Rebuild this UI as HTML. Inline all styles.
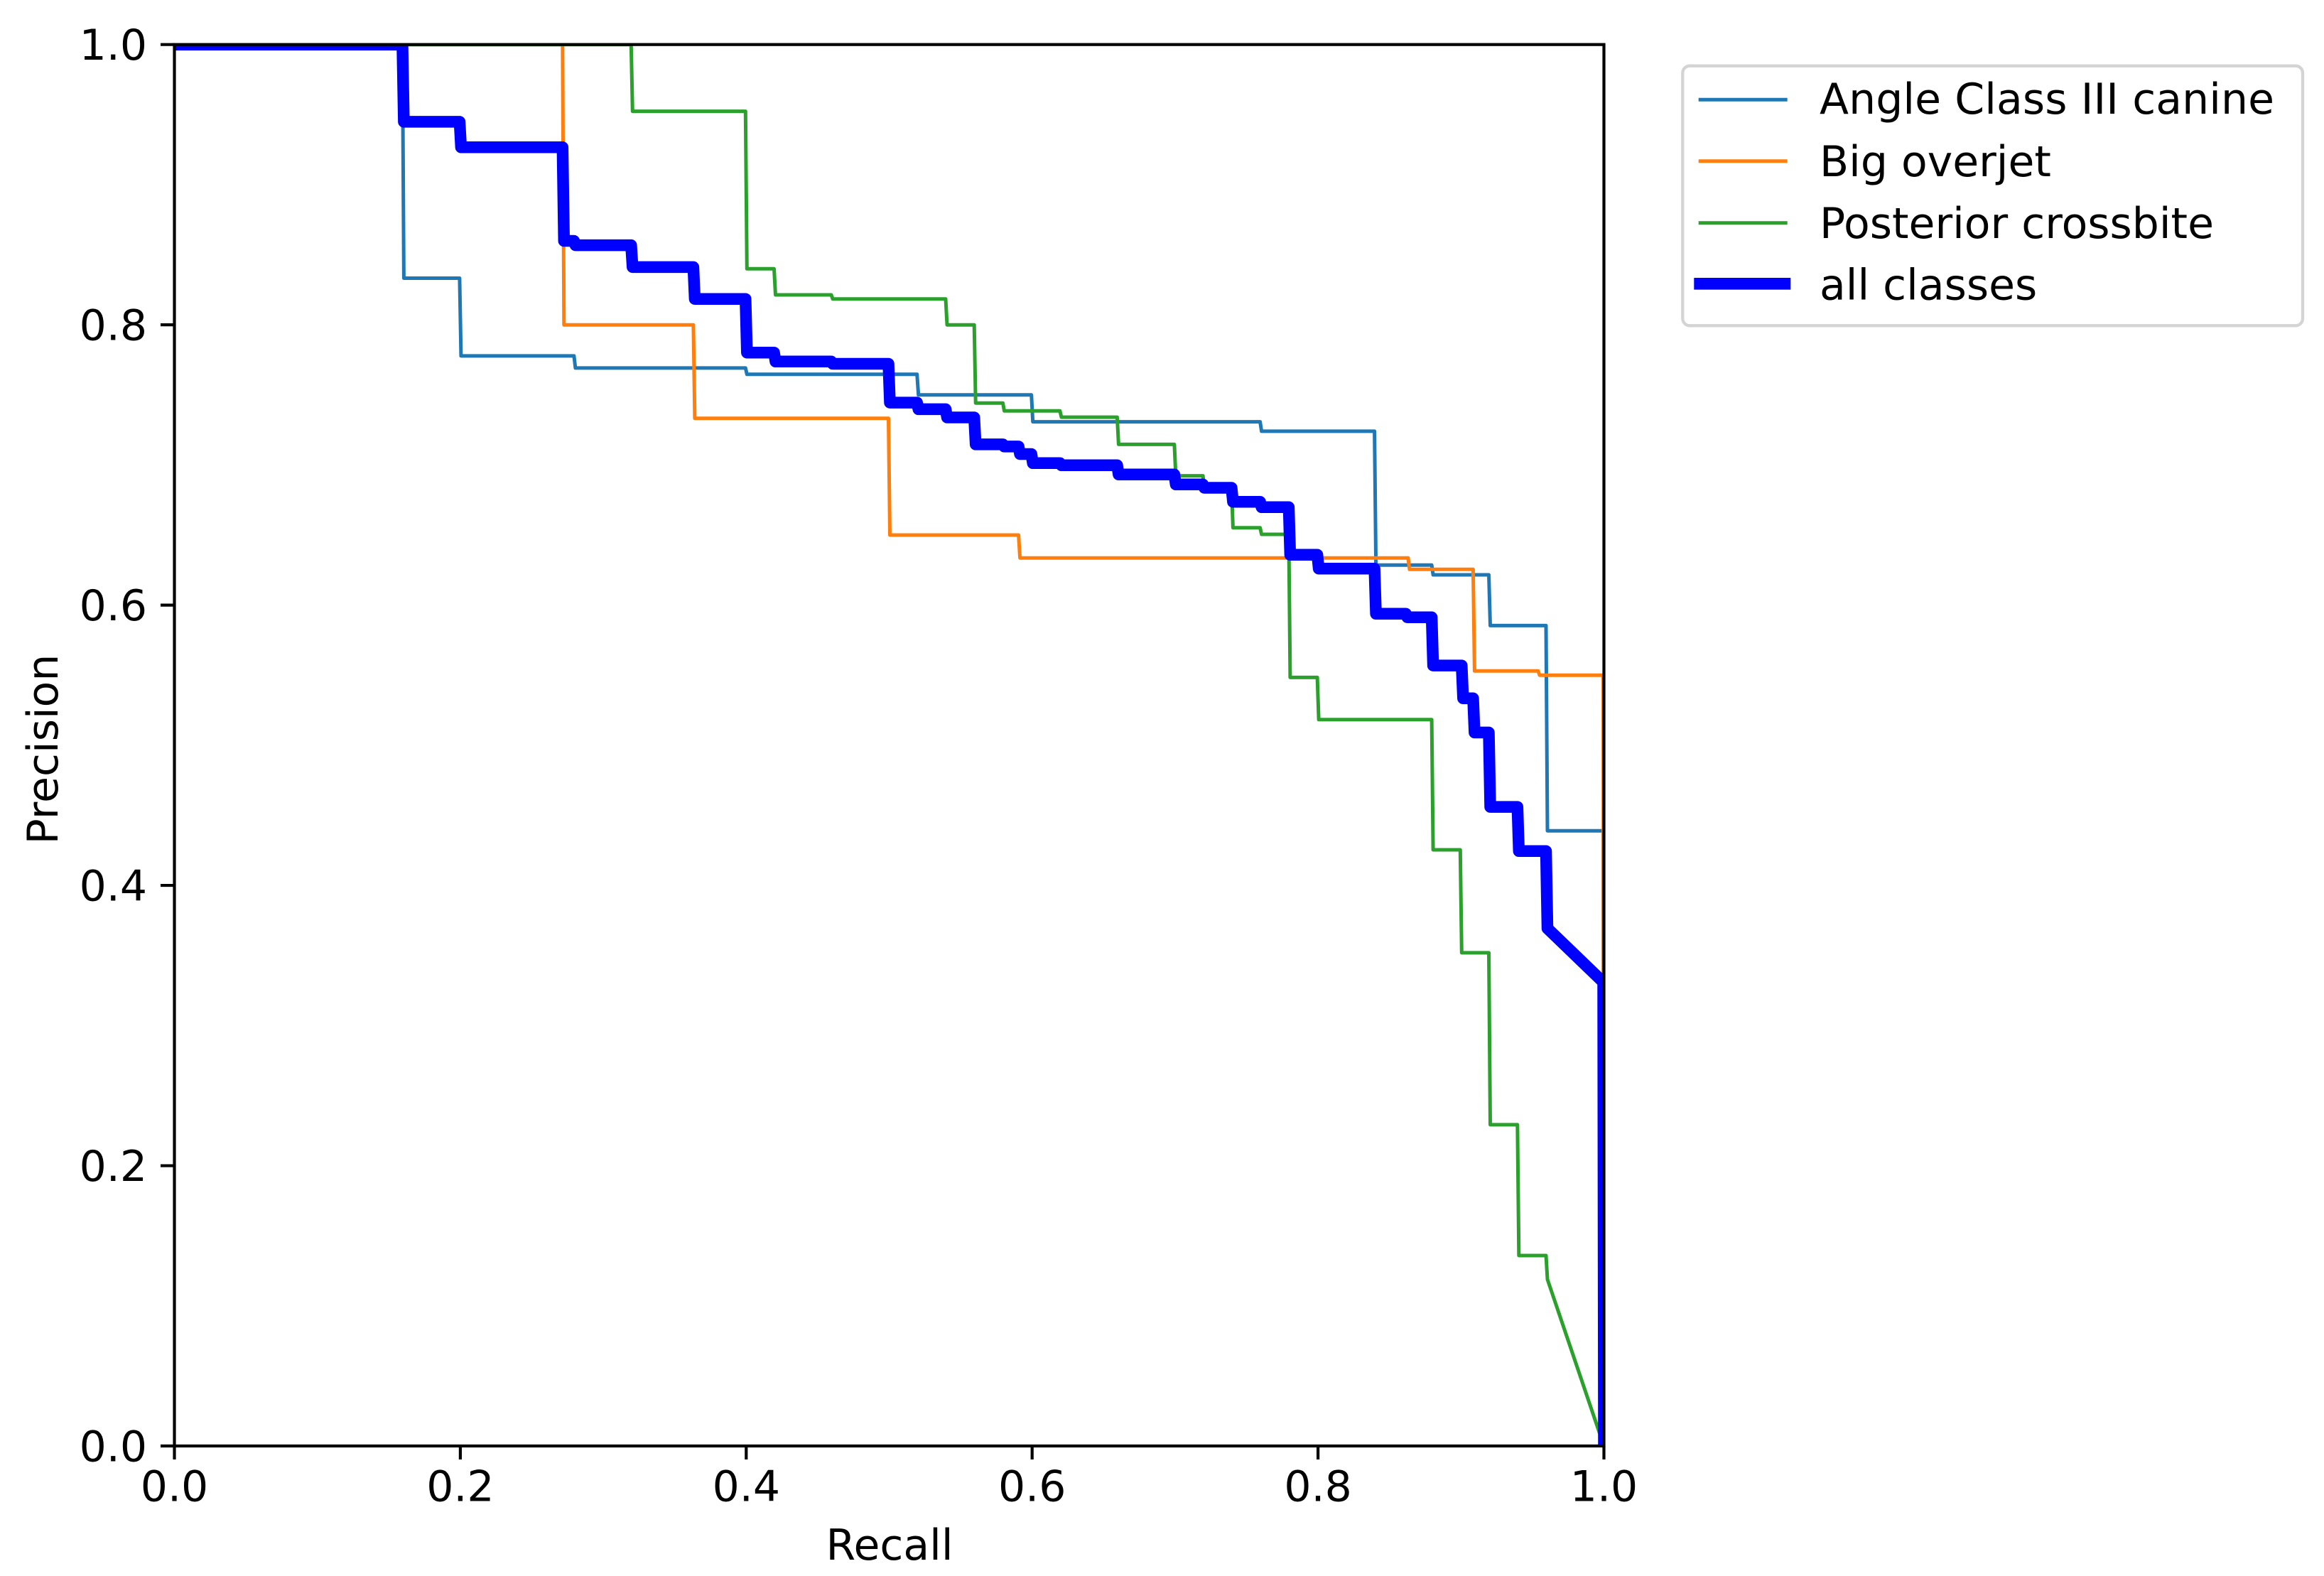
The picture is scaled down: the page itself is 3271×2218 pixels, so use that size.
<!DOCTYPE html>
<html>
<head>
<meta charset="utf-8">
<title>Precision-Recall Curve</title>
<style>
html,body{margin:0;padding:0;background:#fff;}
svg{display:block;}
text{font-family:"DejaVu Sans","Liberation Sans",sans-serif;font-size:60px;fill:#000;}
</style>
</head>
<body>
<svg id="chart" xmlns="http://www.w3.org/2000/svg" width="3271" height="2218" viewBox="0 0 3271 2218">
  <defs>
    <clipPath id="plot-clip"><rect x="245.5" y="62.7" width="2012" height="1972.3"/></clipPath>
  </defs>
  <rect x="0" y="0" width="3271" height="2218" fill="#fff"/>
  <g id="series" clip-path="url(#plot-clip)"></g>
  <g id="ticks"></g>
  <rect x="245.5" y="62.7" width="2012" height="1972.3" fill="none" stroke="#000" stroke-width="4.2"/>
  <text x="1252" y="2195" text-anchor="middle">Recall</text>
  <text transform="translate(81,1054.5) rotate(-90)" text-anchor="middle">Precision</text>
  <g>
    <rect x="2368.3" y="92.7" width="872.7" height="365.6" rx="10" ry="10" fill="#fff" stroke="#d4d4d4" stroke-width="4.3"/>
    <line x1="2390.7" y1="140.3" x2="2515.7" y2="140.3" stroke="#1f77b4" stroke-width="5"/>
    <text x="2561" y="160" textLength="640">Angle Class III canine</text>
    <line x1="2390.7" y1="226.7" x2="2515.7" y2="226.7" stroke="#ff7f0e" stroke-width="5"/>
    <text x="2561" y="248">Big overjet</text>
    <line x1="2390.7" y1="313.7" x2="2515.7" y2="313.7" stroke="#2ca02c" stroke-width="5"/>
    <text x="2561" y="335">Posterior crossbite</text>
    <line x1="2384.3" y1="399.3" x2="2520.3" y2="399.3" stroke="#0000ff" stroke-width="16.7"/>
    <text x="2561" y="421.5">all classes</text>
  </g>
</svg>
<script>
// Tick labels
const xTicks = [0, 0.2, 0.4, 0.6, 0.8, 1.0];
const yTicks = [0, 0.2, 0.4, 0.6, 0.8, 1.0];

// Angle Class III canine: each level runs up to its recall break
const angleBreaks = [0.16, 0.20, 0.28, 0.40, 0.52, 0.60, 0.76, 0.84, 0.88, 0.92, 0.96, 1.0];
const angleLevels = [1.0, 0.8333, 0.7778, 0.7692, 0.7647, 0.75, 0.7308, 0.7241, 0.6286, 0.6216, 0.5854, 0.439];
const angleTailRecall = [1.0];
const angleTailPrecision = [0];

// Big overjet
const overjetBreaks = [0.272, 0.3635, 0.50, 0.591, 0.8635, 0.909, 0.9545, 1.0];
const overjetLevels = [1.0, 0.80, 0.7333, 0.65, 0.6337, 0.6255, 0.5530, 0.55];
const overjetTailRecall = [1.0];
const overjetTailPrecision = [0];

// Posterior crossbite
const crossbiteBreaks = [0.32, 0.40, 0.42, 0.46, 0.54, 0.56, 0.58, 0.62, 0.66, 0.70, 0.72, 0.74, 0.76, 0.78, 0.80, 0.88, 0.90, 0.92, 0.94, 0.96];
const crossbiteLevels = [1.0, 0.9524, 0.84, 0.8214, 0.8185, 0.80, 0.7442, 0.7386, 0.7341, 0.7147, 0.6923, 0.6837, 0.6552, 0.6505, 0.5484, 0.5183, 0.4254, 0.3519, 0.2292, 0.1359];
const crossbiteTailRecall = [0.9605, 1.0];
const crossbiteTailPrecision = [0.1189, 0];

// all classes (mean curve)
const allBreaks = [0.16, 0.20, 0.272, 0.28, 0.32, 0.3635, 0.40, 0.42, 0.46, 0.50, 0.52, 0.54, 0.56, 0.58, 0.591, 0.60, 0.62, 0.66, 0.70, 0.72, 0.74, 0.76, 0.78, 0.80, 0.84, 0.862, 0.88, 0.901, 0.909, 0.92, 0.94, 0.96];
const allLevels = [1.0, 0.9449, 0.9267, 0.8599, 0.8568, 0.8412, 0.8185, 0.7802, 0.7738, 0.7722, 0.7445, 0.7398, 0.7339, 0.7147, 0.7132, 0.7078, 0.7013, 0.6998, 0.6932, 0.6861, 0.6837, 0.6737, 0.6699, 0.6359, 0.6260, 0.5938, 0.5913, 0.5569, 0.5335, 0.5091, 0.456, 0.4245];
const allTailRecall = [0.9605, 0.9995, 1.0];
const allTailPrecision = [0.3693, 0.331, 0];

const stepGap = 0.001;
const SVGNS = 'http://www.w3.org/2000/svg';

function xScale(v) { return 245.5 + 2012 * v; }
function yScale(v) { return 2035 - 1972.3 * v; }

function buildPath(breaks, levels, tailR, tailP) {
  const pts = [];
  let prev = 0;
  breaks.forEach(function (b, i) {
    pts.push([prev, levels[i]]);
    pts.push([b - stepGap / 2, levels[i]]);
    prev = b + stepGap / 2;
  });
  tailR.forEach(function (r, i) { pts.push([r, tailP[i]]); });
  return pts.map(function (p, i) {
    return (i ? 'L' : 'M') + xScale(p[0]).toFixed(1) + ' ' + yScale(p[1]).toFixed(1);
  }).join(' ');
}

function addSeries(name, breaks, levels, tailR, tailP, color, width) {
  const el = document.createElementNS(SVGNS, 'path');
  el.setAttribute('d', buildPath(breaks, levels, tailR, tailP));
  el.setAttribute('fill', 'none');
  el.setAttribute('stroke', color);
  el.setAttribute('stroke-width', width);
  el.setAttribute('stroke-linejoin', 'round');
  
  
  document.getElementById('series').appendChild(el);
}

addSeries('line-angle-class-iii-canine', angleBreaks, angleLevels, angleTailRecall, angleTailPrecision, '#1f77b4', 5);
addSeries('line-big-overjet', overjetBreaks, overjetLevels, overjetTailRecall, overjetTailPrecision, '#ff7f0e', 5);
addSeries('line-posterior-crossbite', crossbiteBreaks, crossbiteLevels, crossbiteTailRecall, crossbiteTailPrecision, '#2ca02c', 5);
addSeries('line-all-classes', allBreaks, allLevels, allTailRecall, allTailPrecision, '#0000ff', 16.5);

const tickGroup = document.getElementById('ticks');

xTicks.forEach(function (t) {
  const line = document.createElementNS(SVGNS, 'line');
  line.setAttribute('x1', xScale(t));
  line.setAttribute('x2', xScale(t));
  line.setAttribute('y1', 2035);
  line.setAttribute('y2', 2054);
  line.setAttribute('stroke', '#000');
  line.setAttribute('stroke-width', 4.2);
  
  
  tickGroup.appendChild(line);
  const label = document.createElementNS(SVGNS, 'text');
  label.setAttribute('x', xScale(t));
  label.setAttribute('y', 2112.5);
  label.setAttribute('text-anchor', 'middle');
  
  
  label.textContent = t.toFixed(1);
  tickGroup.appendChild(label);
});

yTicks.forEach(function (t) {
  const line = document.createElementNS(SVGNS, 'line');
  line.setAttribute('x1', 226);
  line.setAttribute('x2', 245.5);
  line.setAttribute('y1', yScale(t));
  line.setAttribute('y2', yScale(t));
  line.setAttribute('stroke', '#000');
  line.setAttribute('stroke-width', 4.2);
  
  
  tickGroup.appendChild(line);
  const label = document.createElementNS(SVGNS, 'text');
  label.setAttribute('x', 207);
  label.setAttribute('y', yScale(t) + 21.5);
  label.setAttribute('text-anchor', 'end');
  
  
  label.textContent = t.toFixed(1);
  tickGroup.appendChild(label);
});
</script>
</body>
</html>
